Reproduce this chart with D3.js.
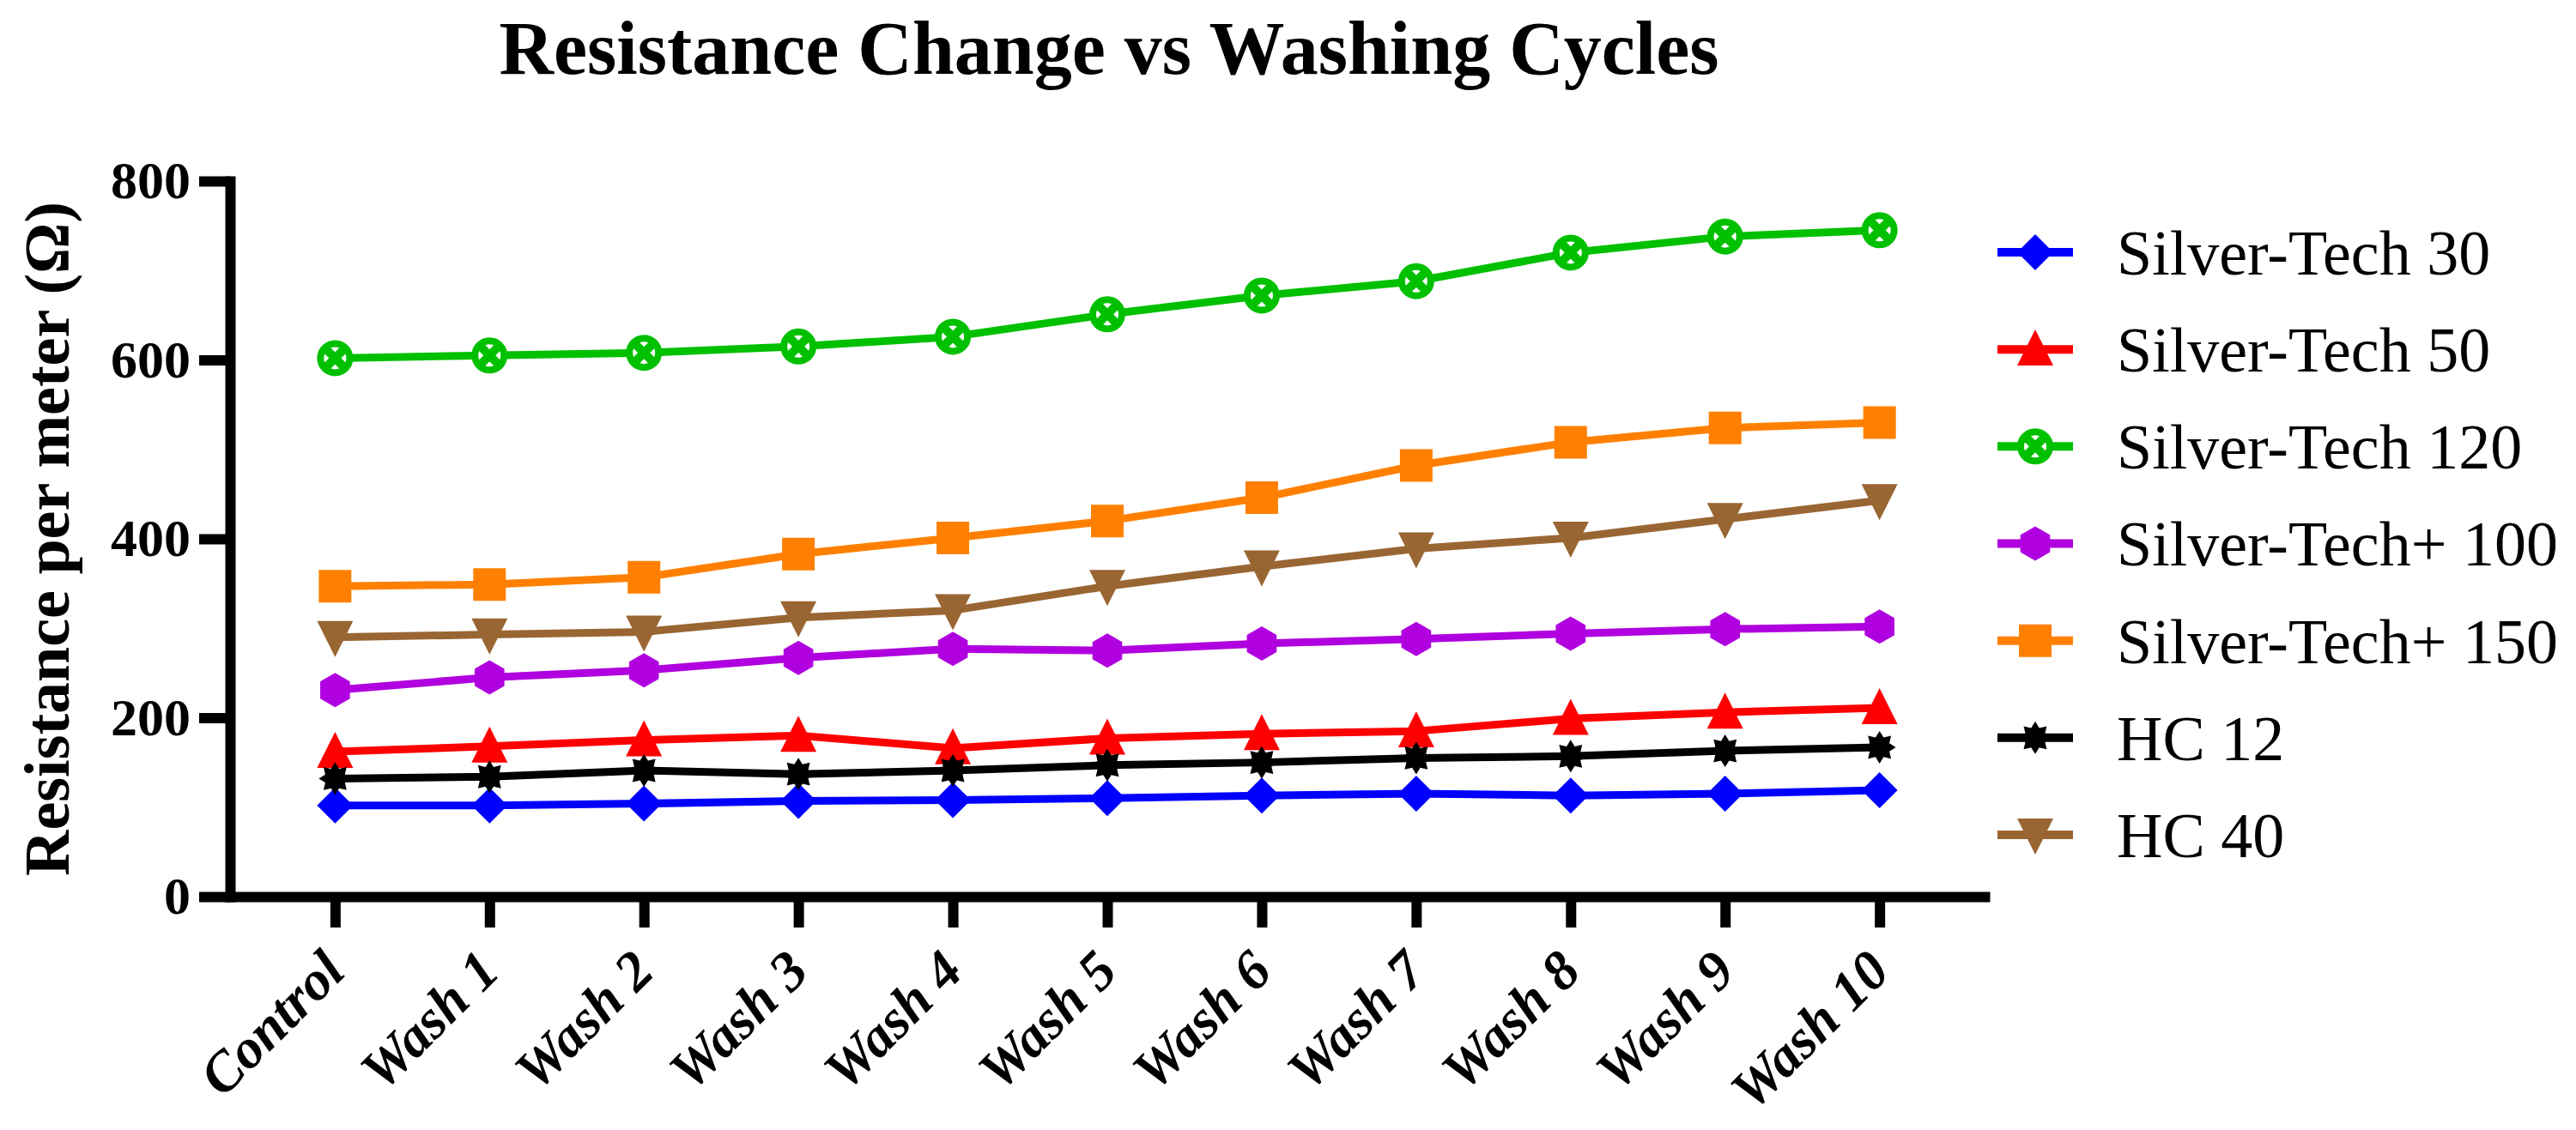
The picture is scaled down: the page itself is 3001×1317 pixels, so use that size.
<!DOCTYPE html>
<html lang="en">
	<head>
		<meta charset="utf-8">
		<title>Resistance Change vs Washing Cycles</title>
		<script type="text/javascript" src="https://cdn.jsdelivr.net/npm/d3@7"></script>
		<style type="text/css">
			body { margin: 0; background: #fff; }
			text { font-family: "Liberation Serif", "Times New Roman", serif; }
		</style>
	</head>
	<body>
		<script type="text/javascript">

			var cycles = ["Control", "Wash 1", "Wash 2", "Wash 3", "Wash 4", "Wash 5", "Wash 6", "Wash 7", "Wash 8", "Wash 9", "Wash 10"]
			var seriesNames = ["Silver-Tech 30", "Silver-Tech 50", "Silver-Tech 120", "Silver-Tech+ 100", "Silver-Tech+ 150", "HC 12", "HC 40"]

			var silverTech30 = [102, 102, 104, 107, 108, 110, 113, 115, 113, 115, 119]
			var silverTech50 = [162, 168, 175, 180, 166, 177, 182, 185, 199, 206, 211]
			var silverTech120 = [602, 605, 608, 615, 626, 651, 672, 688, 720, 738, 745]
			var silverTechPlus100 = [231, 245, 253, 267, 277, 275, 283, 288, 294, 299, 302]
			var silverTechPlus150 = [347, 349, 357, 383, 401, 420, 446, 482, 508, 524, 530]
			var hc12 = [132, 134, 141, 137, 141, 147, 150, 155, 157, 163, 167]
			var hc40 = [290, 293, 296, 312, 320, 347, 369, 389, 401, 422, 443]

			var yTicks = [0, 200, 400, 600, 800]

			var colors = ["#0000ff", "#ff0000", "#00c000", "#b000e0", "#ff8000", "#000000", "#996633"]

			// custom marker shapes, size = half width in px
			var diamond = { draw: function(c, r) {
				c.moveTo(0, -r); c.lineTo(r, 0); c.lineTo(0, r); c.lineTo(-r, 0); c.closePath();
			}}
			var triUp = { draw: function(c, r) {
				c.moveTo(0, -r * 1.1); c.lineTo(r, r * 0.9); c.lineTo(-r, r * 0.9); c.closePath();
			}}
			var triDown = { draw: function(c, r) {
				c.moveTo(-r, -r * 0.9); c.lineTo(r, -r * 0.9); c.lineTo(0, r * 1.1); c.closePath();
			}}
			var square = { draw: function(c, r) {
				c.rect(-r, -r, 2 * r, 2 * r);
			}}
			var hexagon = { draw: function(c, r) {
				for (var k = 0; k < 6; k++) {
					var a = Math.PI / 3 * k
					var px = r * Math.sin(a), py = -r * Math.cos(a)
					if (k == 0) c.moveTo(px, py); else c.lineTo(px, py)
				}
				c.closePath()
			}}
			var star = { draw: function(c, r) {
				for (var k = 0; k < 16; k++) {
					var a = Math.PI / 8 * k
					var rr = (k % 2 == 0) ? r : r * 0.65
					var px = rr * Math.sin(a), py = -rr * Math.cos(a)
					if (k == 0) c.moveTo(px, py); else c.lineTo(px, py)
				}
				c.closePath()
			}}
			var shapes = [diamond, triUp, "ring", hexagon, square, star, triDown]
			var shapeSize = [21, 21, 21, 20, 19, 19, 21]

			var values = [silverTech30, silverTech50, silverTech120, silverTechPlus100, silverTechPlus150, hc12, hc40]
			var series = seriesNames.map(function(name, i) {
				return {
					name: name,
					color: colors[i],
					shape: shapes[i],
					size: shapeSize[i],
					points: cycles.map(function(c, j) { return { cycle: c, value: values[i][j] }; })
				}
			})

			var w = 3001, h = 1317

			var svg = d3.select("body").append("svg")
				.attr("width", w).attr("height", h)
				.style("background", "#fff")

			var x = d3.scalePoint()
				.domain(cycles)
				.range([268, 2312])
				.padding(0.68)

			var y = d3.scaleLinear()
				.domain([0, 800])
				.range([1045, 211])

			// title
			svg.append("text")
				.attr("x", 1292)
				.attr("y", 86)
				.attr("text-anchor", "middle")
				.attr("font-size", "88px")
				.attr("font-weight", "bold")
				.text("Resistance Change vs Washing Cycles")

			// y axis
			var yAxis = svg.append("g")
				.attr("transform", "translate(" + x.range()[0] + ",0)")
				.call(d3.axisLeft(y).tickValues(yTicks).tickSize(36).tickSizeOuter(0).tickPadding(10))
			yAxis.select(".domain").attr("stroke-width", 12).attr("stroke-linecap", "square")
			yAxis.selectAll(".tick line").attr("stroke-width", 12)
			yAxis.selectAll(".tick text")
				.attr("font-family", "Liberation Serif")
				.attr("font-size", "62px")
				.attr("font-weight", "bold")
				.attr("fill", "#000")

			// x axis
			var xAxis = svg.append("g")
				.attr("transform", "translate(0," + y(0) + ")")
				.call(d3.axisBottom(x).tickSize(36).tickSizeOuter(0))
			xAxis.select(".domain").attr("stroke-width", 12).attr("stroke-linecap", "square")
			xAxis.selectAll(".tick line").attr("stroke-width", 12)
			xAxis.selectAll(".tick text")
				.attr("font-family", "Liberation Serif")
				.attr("font-size", "65px")
				.attr("font-weight", "bold")
				.attr("font-style", "italic")
				.attr("fill", "#000")
				.attr("text-anchor", "end")
				.attr("x", 0)
				.attr("y", 0)
				.attr("dy", null)
				.attr("transform", "translate(14,90) rotate(-45)")

			// y axis title
			svg.append("text")
				.attr("transform", "translate(80," + (y(0) + y(800)) / 2 + ") rotate(-90)")
				.attr("text-anchor", "middle")
				.attr("font-size", "74px")
				.attr("font-weight", "bold")
				.text("Resistance per meter (\u03A9)")

			var line = d3.line()
				.x(function(d) { return x(d.cycle); })
				.y(function(d) { return y(d.value); })

			var drawMarker = function(sel, s) {
				if (s.shape == "ring") {
					sel.append("circle")
						.attr("r", s.size - 4)
						.attr("fill", "#fff")
						.attr("stroke", s.color)
						.attr("stroke-width", 8)
					var r = (s.size - 5) * 0.7
					sel.append("path")
						.attr("d", "M" + (-r) + "," + (-r) + "L" + r + "," + r +
							"M" + r + "," + (-r) + "L" + (-r) + "," + r)
						.attr("stroke", s.color)
						.attr("stroke-width", 10)
				} else {
					sel.append("path")
						.attr("d", d3.symbol().type(s.shape).size(s.size))
						.attr("fill", s.color)
				}
			}

			var groups = svg.selectAll(".series")
				.data(series)
				.enter()
				.append("g")
				.attr("class", "series")

			groups.append("path")
				.attr("d", function(d) { return line(d.points); })
				.attr("fill", "none")
				.attr("stroke", function(d) { return d.color; })
				.attr("stroke-width", 9)
				.attr("stroke-linejoin", "round")

			groups.each(function(s) {
				d3.select(this).selectAll(".mark")
					.data(s.points)
					.enter()
					.append("g")
					.attr("class", "mark")
					.attr("transform", function(d) { return "translate(" + x(d.cycle) + "," + y(d.value) + ")"; })
					.each(function() { drawMarker(d3.select(this), s); })
			})

			// legend
			var legendY = d3.scalePoint()
				.domain(seriesNames)
				.range([294, 973])

			var legend = svg.selectAll(".legend")
				.data(series)
				.enter()
				.append("g")
				.attr("class", "legend")
				.attr("transform", function(d) { return "translate(2371," + legendY(d.name) + ")"; })

			legend.append("line")
				.attr("x1", -44)
				.attr("x2", 44)
				.attr("stroke", function(d) { return d.color; })
				.attr("stroke-width", 10)

			legend.each(function(s) {
				var g = d3.select(this).append("g")
				drawMarker(g, s)
			})

			legend.append("text")
				.attr("x", 95)
				.attr("dy", "0.35em")
				.attr("font-size", "74px")
				.text(function(d) { return d.name; })

		</script>
	</body>
</html>
